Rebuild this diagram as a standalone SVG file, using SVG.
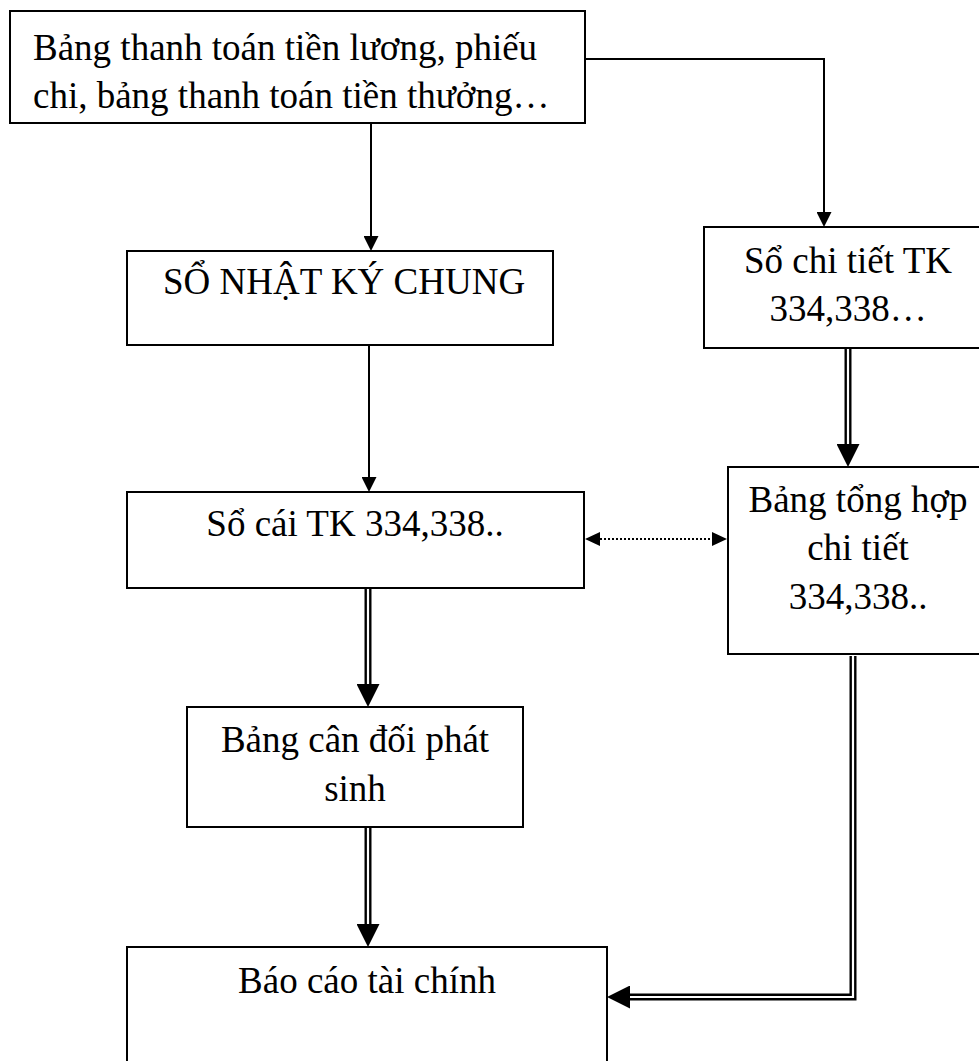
<svg xmlns="http://www.w3.org/2000/svg" width="979" height="1061" viewBox="0 0 979 1061">
  <style>
    .box { fill: #fff; stroke: #000; stroke-width: 2; }
    .t { font-family: "Liberation Serif", "Times New Roman", serif; font-size: 37px; fill: #000; }
    .c { text-anchor: middle; }
    .single { fill: none; stroke: #000; stroke-width: 2; }
    .dbl { fill: none; stroke: #000; stroke-width: 7; stroke-linejoin: miter; }
    .dbl-gap { fill: none; stroke: #fff; stroke-width: 2.2; stroke-linejoin: miter; }
    .dot { fill: none; stroke: #000; stroke-width: 2; stroke-dasharray: 2 2; }
  </style>
  <defs>
    <marker id="arr" viewBox="0 0 15 15" refX="0" refY="7.5" markerWidth="15" markerHeight="15" markerUnits="userSpaceOnUse" orient="auto">
      <path d="M0,0 L15,7.5 L0,15 z" fill="#000"/>
    </marker>
    <marker id="arr-big" viewBox="0 0 23 23" refX="0" refY="11.5" markerWidth="23" markerHeight="23" markerUnits="userSpaceOnUse" orient="auto">
      <path d="M0,0 L23,11.5 L0,23 z" fill="#000"/>
    </marker>
    <marker id="arr-dot" viewBox="0 0 15 14" refX="0" refY="7" markerWidth="15" markerHeight="14" markerUnits="userSpaceOnUse" orient="auto-start-reverse">
      <path d="M0,0 L15,7 L0,14 z" fill="#000"/>
    </marker>
  </defs>

  <rect width="979" height="1061" fill="#fff"/>

  <g id="connectors">
    <!-- source documents to general journal -->
    <path class="single" d="M371,123 L371,236" marker-end="url(#arr)"/>
    <!-- source documents to detail ledger -->
    <path class="single" d="M585,59 L824,59 L824,212" marker-end="url(#arr)"/>
    <!-- general journal to ledger -->
    <path class="single" d="M369,345 L369,477" marker-end="url(#arr)"/>
    <!-- detail ledger to detail summary -->
    <path class="dbl" d="M848,348 L848,444" marker-end="url(#arr-big)"/>
    <path class="dbl-gap" d="M848,348 L848,444"/>
    <!-- ledger to trial balance -->
    <path class="dbl" d="M368,588 L368,684" marker-end="url(#arr-big)"/>
    <path class="dbl-gap" d="M368,588 L368,684"/>
    <!-- trial balance to financial statements -->
    <path class="dbl" d="M368,827 L368,924" marker-end="url(#arr-big)"/>
    <path class="dbl-gap" d="M368,827 L368,924"/>
    <!-- detail summary to financial statements -->
    <path class="dbl" d="M853,656 L853,997 L630,997" marker-end="url(#arr-big)"/>
    <path class="dbl-gap" d="M853,656 L853,997 L630,997"/>
    <!-- reconciliation between ledger and detail summary -->
    <path class="dot" d="M600,539 L712,539" marker-start="url(#arr-dot)" marker-end="url(#arr-dot)"/>
  </g>

  <g id="chung-tu">
    <rect class="box" x="10" y="11" width="575" height="112"/>
    <text class="t" x="33" y="60">Bảng thanh toán tiền lương, phiếu</text>
    <text class="t" x="33" y="108">chi, bảng thanh toán tiền thưởng…</text>
  </g>

  <g id="nhat-ky-chung">
    <rect class="box" x="127" y="251" width="426" height="94"/>
    <text class="t" x="163" y="294">SỔ NHẬT KÝ CHUNG</text>
  </g>

  <g id="so-chi-tiet">
    <rect class="box" x="704" y="227" width="290" height="121"/>
    <text class="t c" x="848" y="273">Sổ chi tiết TK</text>
    <text class="t c" x="848" y="321">334,338…</text>
  </g>

  <g id="so-cai">
    <rect class="box" x="127" y="492" width="457" height="96"/>
    <text class="t c" x="355" y="536">Sổ cái TK 334,338..</text>
  </g>

  <g id="tong-hop-chi-tiet">
    <rect class="box" x="728" y="467" width="262" height="187"/>
    <text class="t c" x="858" y="512">Bảng tổng hợp</text>
    <text class="t c" x="858" y="560">chi tiết</text>
    <text class="t c" x="858" y="609">334,338..</text>
  </g>

  <g id="can-doi-phat-sinh">
    <rect class="box" x="187" y="707" width="336" height="120"/>
    <text class="t c" x="355" y="752">Bảng cân đối phát</text>
    <text class="t c" x="355" y="801">sinh</text>
  </g>

  <g id="bao-cao-tai-chinh">
    <rect class="box" x="127" y="947" width="480" height="130"/>
    <text class="t c" x="367" y="993">Báo cáo tài chính</text>
  </g>
</svg>
